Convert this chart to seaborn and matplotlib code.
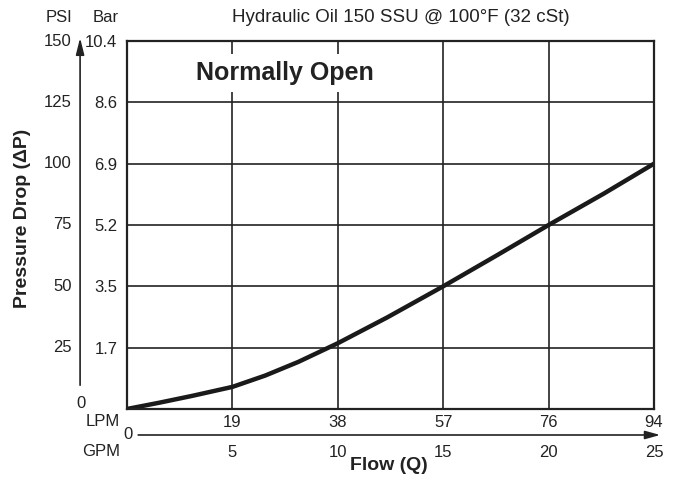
import numpy as np
import pandas as pd
import seaborn as sns
import matplotlib.pyplot as plt

# Datos (GPM vs PSI)
flow_gpm = [0, 1.5, 3.07, 5, 6.55, 8.13, 10, 12.34, 15, 17.56, 20, 22.62, 25]
drop_psi = [0, 2.5, 5.3, 9.0, 13.6, 19.2, 26.8, 37.3, 50, 62.7, 75, 87.8, 100]

psi_ticks = [25, 50, 75, 100, 125, 150]
bar_labels = ['1.7', '3.5', '5.2', '6.9', '8.6', '10.4']
gpm_ticks = [5, 10, 15, 20, 25]
lpm_labels = ['19', '38', '57', '76', '94']

sns.set_style('white')
plt.rcParams['font.family'] = ['Liberation Sans', 'DejaVu Sans']

df = pd.DataFrame({'gpm': flow_gpm, 'psi': drop_psi})
ink = '#222222'

fig = plt.figure(figsize=(6.78, 4.78), dpi=100)
ax = fig.add_axes([0.1873, 0.1444, 0.7773, 0.7698])

sns.lineplot(data=df, x='gpm', y='psi', ax=ax, color='#1a1a1a', linewidth=3.2)

ax.set_xlim(0, 25)
ax.set_ylim(0, 150)
ax.set_xticks(gpm_ticks)
ax.set_yticks(psi_ticks)
ax.grid(True, color=ink, linewidth=1.2)
for s in ax.spines.values():
    s.set_color(ink)
    s.set_linewidth(1.6)

# etiquetas Bar en el eje, PSI a la izquierda
ax.set_yticklabels(bar_labels, fontsize=12)
ax.tick_params(axis='y', length=2, pad=5, colors=ink, labelcolor=ink)
ax.set_xticklabels(lpm_labels, fontsize=12)
ax.tick_params(axis='x', length=0, pad=4, labelcolor=ink)
ax.set_xlabel('')
ax.set_ylabel('')

trans_y = ax.get_yaxis_transform()
for v in psi_ticks:
    ax.text(-0.1044, v, str(v), transform=trans_y, ha='right', va='center',
            fontsize=12, color=ink)
ax.text(-0.087, 0.015, '0', transform=ax.transAxes, ha='center', va='center',
        fontsize=12, color=ink)

trans_x = ax.get_xaxis_transform()
for v in gpm_ticks:
    ax.text(v, -0.117, str(v), transform=trans_x, ha='center', va='center',
            fontsize=12, color=ink)
ax.text(0.01, -0.0707, '0', transform=ax.transAxes, ha='right', va='center',
        fontsize=12, color=ink)

# flechas de los ejes
ax.annotate('', xy=(-0.089, 1.016), xytext=(-0.089, 0.057), xycoords='axes fraction',
            arrowprops=dict(arrowstyle='-|>,head_length=1.0,head_width=0.25',
                            color=ink, lw=1.2), annotation_clip=False)
ax.annotate('', xy=(1.017, -0.0707), xytext=(0.016, -0.0707), xycoords='axes fraction',
            arrowprops=dict(arrowstyle='-|>,head_length=0.9,head_width=0.25',
                            color=ink, lw=1.2), annotation_clip=False)

# textos
fig.text(72 / 678, 1 - 17 / 478, 'PSI', ha='right', va='center', fontsize=12, color=ink)
fig.text(119 / 678, 1 - 17 / 478, 'Bar', ha='right', va='center', fontsize=12, color=ink)
fig.text(120 / 678, 1 - 422 / 478, 'LPM', ha='right', va='center', fontsize=12, color=ink)
fig.text(120 / 678, 1 - 451 / 478, 'GPM', ha='right', va='center', fontsize=12, color=ink)
fig.text(401 / 678, 1 - 17 / 478, 'Hydraulic Oil 150 SSU @ 100°F (32 cSt)', ha='center',
         va='center', fontsize=13.5, color=ink)
fig.text(389 / 678, 1 - 466 / 478, 'Flow (Q)', ha='center', va='center', fontsize=14,
         fontweight='bold', color=ink)
fig.text(23 / 678, 1 - 218 / 478, 'Pressure Drop (ΔP)', ha='center', va='center',
         rotation=90, fontsize=14, fontweight='bold', color=ink)
ax.text(7.5, 137, 'Normally Open', ha='center', va='center', fontsize=18,
        fontweight='bold', color=ink,
        bbox=dict(facecolor='white', edgecolor='none', pad=5))

fig.savefig('out.png', dpi=100)
